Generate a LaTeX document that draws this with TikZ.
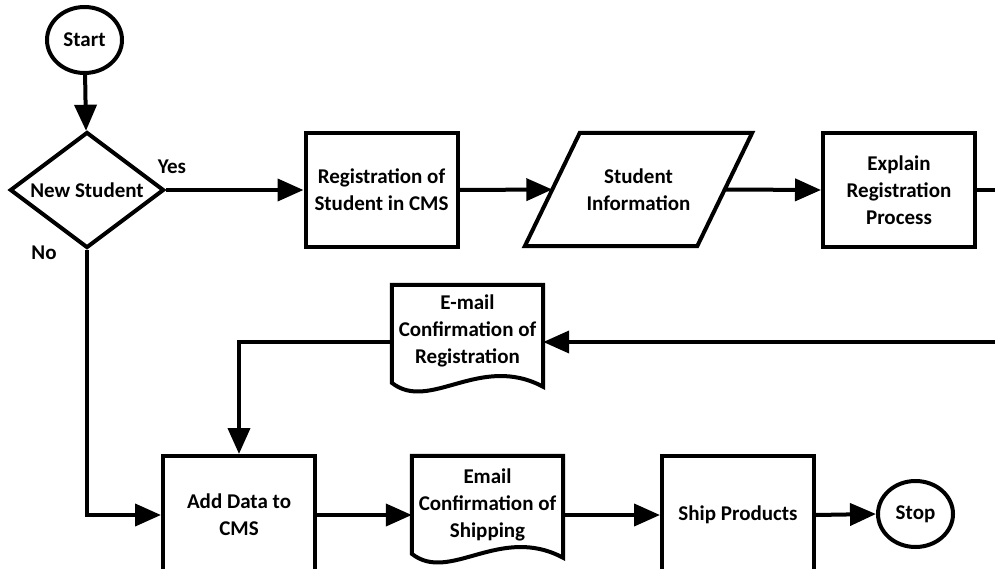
\documentclass[tikz,border=0pt]{standalone}
\usepackage{fontspec}
\setmainfont{Carlito}
\usetikzlibrary{shapes.geometric,arrows.meta,calc}
\begin{document}
\begin{tikzpicture}[x=1pt,y=-1pt,
  every node/.style={font=\fontsize{21}{27}\selectfont\bfseries, align=center, inner sep=0pt},
  lw/.style={line width=4pt},
  box/.style={lw, draw, rectangle, minimum width=152, minimum height=114},
  term/.style={lw, draw, ellipse, minimum width=75, minimum height=66},
  ghost/.style={rectangle, draw=none},
  conn/.style={lw, -{Triangle[length=26pt,width=22pt]}},
  plain/.style={lw}
]
\clip (0,0) rectangle (995,569);

% nodes
\node[term] (start) at (84.5,40) {Start};
\node[lw, draw, diamond, aspect=1.33, minimum width=154, minimum height=116] (dec) at (87,190) {New Student};
\node[box] (reg) at (381.5,190) {Registration of\\Student in CMS};
\node[ghost, minimum width=172, minimum height=113] (info) at (638.5,189.5) {Student\\Information};
\node[box] (expl) at (899,190) {Explain\\Registration\\Process};
\node[ghost, minimum width=151, minimum height=114] (doc1) at (467.5,342) {};
\node (doc1t) at (467.5,331) {E-mail\\Confirmation of\\Registration};
\node[box, minimum height=118] (add) at (239,515) {Add Data to\\CMS};
\node[ghost, minimum width=151, minimum height=118] (doc2) at (487.5,515) {};
\node (doc2t) at (487.5,505) {Email\\Confirmation of\\Shipping};
\node[box, minimum height=118] (ship) at (738,515) {Ship Products};
\node[term] (stop) at (915.5,514) {Stop};
\node (yes) at (172,167) {Yes};
\node (no) at (44,253) {No};
\coordinate (out1) at (1002,190);
\coordinate (in1) at (1002,342);

% parallelogram
\draw[lw] ($(info.north west)+(27.5,0)$) -- ($(info.north east)+(27.5,0)$)
  -- ($(info.south east)+(-27.5,0)$) -- ($(info.south west)+(-27.5,0)$) -- cycle;

% documents
\newcommand\docshape[1]{%
  \draw[lw] (#1.north west) -- ($(#1.north west)+(0,98)$)
    .. controls ($(#1.north west)+(38,128)$) and ($(#1.north west)+(88,68)$) ..
    ($(#1.north east)+(0,102)$) -- (#1.north east) -- cycle;}
\docshape{doc1}
\docshape{doc2}

% connectors
\draw[conn] (start) -- (dec);
\draw[conn] (dec.east) -- (reg.west);
\draw[conn] (reg.east) -- (info.west);
\draw[conn] (info.east) -- (expl.west);
\draw[plain] (expl.east) -- (out1);
\draw[conn] (in1) -- (doc1.east);
\draw[conn] (doc1.west) -| (add.north);
\draw[conn] (dec.south) |- (add.west);
\draw[conn] (add.east) -- (doc2.west);
\draw[conn] (doc2.east) -- (ship.west);
\draw[conn] (ship.east) -- (stop.west);
\end{tikzpicture}
\end{document}
